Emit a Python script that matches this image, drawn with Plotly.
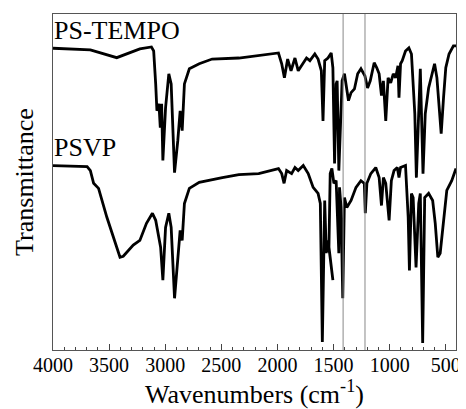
import plotly.graph_objects as go

# PS-TEMPO spectrum (wavenumber cm-1, transmittance a.u.)
tempo_wn = [4000, 3667, 3432, 3226, 3123, 3103, 3085, 3074, 3056, 3044, 3032, 3021, 2997, 2968,
            2947, 2917, 2888, 2867, 2849, 2829, 2785, 2697, 2582, 2344, 1991, 1962, 1938, 1909,
            1879, 1844, 1815, 1770, 1741, 1711, 1667, 1638, 1609, 1594, 1579, 1550, 1521, 1506,
            1491, 1477, 1468, 1453, 1441, 1424, 1403, 1388, 1367, 1344, 1314, 1285, 1256, 1221,
            1197, 1173, 1138, 1115, 1094, 1073, 1056, 1035, 1014, 991, 968, 947, 926, 917, 903,
            888, 859, 829, 806, 776, 762, 747, 727, 703, 683, 653, 623, 600, 579, 559, 541, 520,
            500, 471, 432, 409]
tempo_t = [89.8, 89.3, 87.0, 89.6, 90.2, 89.0, 79.2, 71.2, 73.3, 66.2, 73.3, 56.4, 72.1, 82.2,
           79.2, 52.8, 62.3, 71.2, 65.3, 79.2, 83.7, 85.2, 86.6, 86.9, 88.4, 85.2, 81.0, 86.6,
           83.1, 86.9, 83.1, 85.2, 86.9, 86.1, 88.1, 86.6, 83.1, 68.2, 86.1, 86.9, 88.4, 84.0,
           55.5, 79.2, 80.1, 53.4, 67.4, 80.1, 82.2, 79.2, 74.2, 76.6, 77.7, 82.2, 83.7, 81.6,
           78.0, 80.1, 85.5, 84.0, 82.2, 75.7, 80.1, 68.2, 81.0, 79.5, 82.2, 81.0, 84.6, 75.1, 85.2,
           86.1, 89.0, 89.9, 88.1, 70.3, 51.3, 65.3, 83.7, 52.5, 70.3, 78.0, 82.2, 85.2, 81.0, 72.1,
           64.4, 75.1, 84.0, 88.1, 90.5, 90.5]

# PSVP spectrum
psvp_wn = [4000, 3696, 3667, 3638, 3594, 3520, 3403, 3374, 3285, 3226, 3167, 3114, 3085, 3056,
           3041, 3021, 2997, 2968, 2947, 2917, 2888, 2867, 2849, 2829, 2785, 2697, 2491, 2344,
           2167, 1991, 1962, 1941, 1918, 1874, 1844, 1815, 1770, 1726, 1682, 1638, 1618, 1600,
           1579, 1565, 1556, 1535, 1506, 1541, 1530, 1515, 1497, 1477, 1453, 1447, 1433, 1418,
           1403, 1382, 1344, 1300, 1256, 1226, 1217, 1203, 1168, 1124, 1094, 1073, 1056, 1035,
           1005, 985, 961, 932, 917, 903, 859, 835, 824, 806, 791, 765, 741, 727, 706, 688, 653,
           617, 594, 571, 550, 520, 491, 447, 409]
psvp_t = [54.9, 54.6, 53.4, 49.6, 48.1, 39.5, 27.6, 27.9, 31.2, 32.6, 37.7, 40.7, 38.6, 32.6,
          30.6, 20.8, 36.5, 40.7, 36.5, 15.4, 27.6, 35.6, 32.6, 43.6, 48.1, 49.9, 51.3, 52.2,
          52.5, 54.0, 52.5, 49.6, 53.4, 52.5, 54.3, 53.4, 54.9, 52.5, 48.4, 46.6, 43.6, 2.4,
          44.5, 28.8, 32.6, 28.8, 20.8, 30.6, 52.5, 54.0, 49.6, 50.4, 28.8, 48.4, 42.4, 15.4,
          45.4, 42.4, 44.5, 48.4, 50.4, 49.6, 40.7, 49.6, 52.5, 54.3, 51.3, 43.0, 51.3, 49.6,
          38.6, 50.4, 53.4, 54.3, 51.3, 54.3, 54.9, 39.5, 23.7, 46.6, 45.4, 24.6, 43.6, 46.6, 2.1, 45.4, 46.6,
          44.5, 37.7, 27.6, 28.8, 39.5, 47.5, 50.4, 54.0]

ref_lines = [1415, 1220]
labels = ["PS-TEMPO", "PSVP"]
label_y = [95.0, 60.2]

FONT = "Times New Roman"

fig = go.Figure()
fig.add_trace(go.Scatter(x=tempo_wn, y=tempo_t, mode="lines",
                         line=dict(color="black", width=2.8), name=labels[0]))
fig.add_trace(go.Scatter(x=psvp_wn, y=psvp_t, mode="lines",
                         line=dict(color="black", width=2.8), name=labels[1]))

for xv in ref_lines:
    fig.add_shape(type="line", x0=xv, x1=xv, y0=0, y1=1, xref="x", yref="paper",
                  line=dict(color="#888888", width=1), layer="above")

for txt, yv in zip(labels, label_y):
    fig.add_annotation(x=0, xref="paper", y=yv, yref="y", text=txt, showarrow=False,
                       xanchor="left", yanchor="middle", xshift=-1,
                       font=dict(family=FONT, size=26, color="black"))

# page body has an 8px margin, so the figure is 8px smaller and margins shifted
fig.update_layout(
    width=458, height=401,
    margin=dict(l=45, r=7, t=5, b=59),
    paper_bgcolor="white", plot_bgcolor="white",
    showlegend=False,
    font=dict(family=FONT, color="black"),
    xaxis=dict(range=[4000, 409], autorange=False, tick0=0, dtick=500,
               ticks="inside", ticklen=6, tickwidth=1, tickcolor="#444444",
               minor=dict(ticks="inside", dtick=100, ticklen=3, tickwidth=1, tickcolor="#444444"),
               showgrid=False, zeroline=False,
               showline=True, linecolor="#555555", linewidth=1, mirror=True,
               ticklabelstandoff=-3,
               tickfont=dict(family=FONT, size=20, color="black"),
               title=dict(text="Wavenumbers (cm<sup>-1</sup>)", standoff=5,
                          font=dict(family=FONT, size=26, color="black"))),
    yaxis=dict(range=[0, 100], autorange=False, showticklabels=False, ticks="",
               showgrid=False, zeroline=False,
               showline=True, linecolor="#555555", linewidth=1, mirror=True,
               title=dict(text="Transmittance", standoff=10,
                          font=dict(family=FONT, size=26, color="black"))),
)

fig.write_html("out.html")
